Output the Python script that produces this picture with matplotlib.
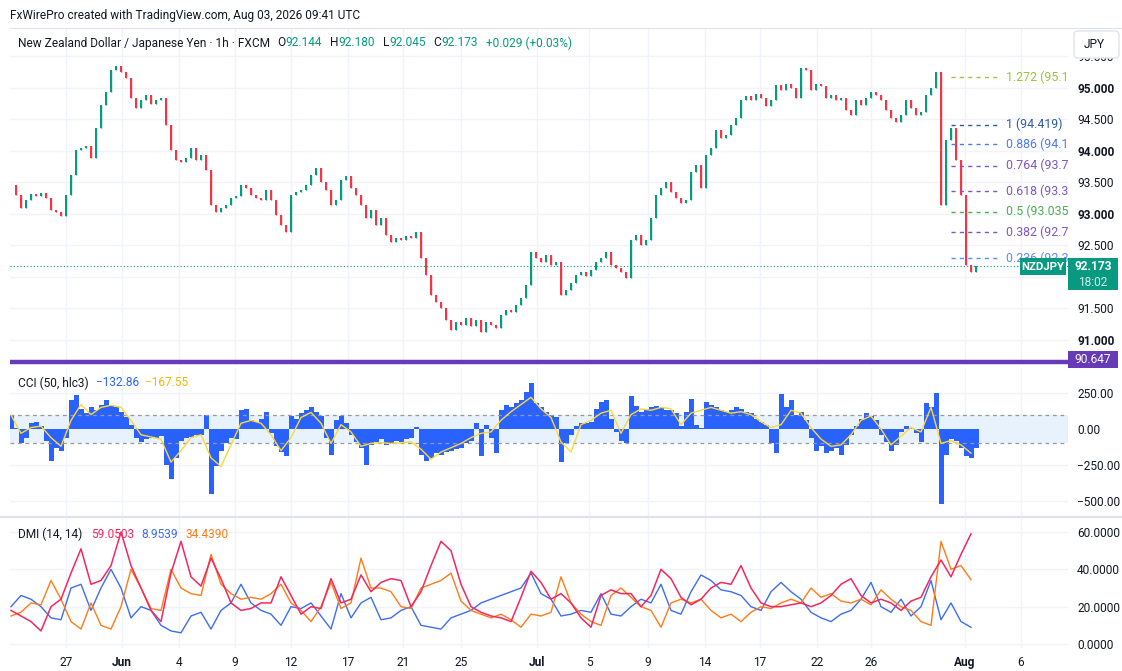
import numpy as np
import matplotlib
matplotlib.use("Agg")
import matplotlib.pyplot as plt
from matplotlib.patches import Rectangle, FancyBboxPatch

plt.rcParams['font.family'] = ['Roboto', 'DejaVu Sans']

# hourly closes, sampled roughly every 4 hours
closes = [
    93.46, 93.30, 93.10, 93.22, 93.32, 93.29, 93.33, 93.25, 93.06, 93.03,
    92.97, 93.30, 93.62, 94.02, 94.05, 94.08, 93.89, 94.37, 94.73, 94.94,
    95.29, 95.35, 95.25, 95.16, 94.84, 94.68, 94.81, 94.89, 94.75, 94.81,
    94.84, 94.41, 94.02, 93.86, 93.83, 93.89, 94.05, 93.86, 93.94, 93.70,
    93.14, 93.03, 93.10, 93.14, 93.25, 93.29, 93.46, 93.41, 93.30, 93.25,
    93.22, 93.38, 93.22, 92.98, 92.83, 92.71, 93.30, 93.35, 93.38, 93.46,
    93.62, 93.73, 93.51, 93.38, 93.14, 93.22, 93.54, 93.60, 93.41, 93.30,
    93.14, 92.94, 93.06, 92.83, 92.94, 92.67, 92.56, 92.62, 92.59, 92.65,
    92.62, 92.71, 92.30, 92.03, 91.71, 91.60, 91.51, 91.32, 91.16, 91.29,
    91.24, 91.35, 91.22, 91.32, 91.13, 91.29, 91.24, 91.19, 91.40, 91.48,
    91.44, 91.56, 91.67, 91.87, 92.40, 92.30, 92.24, 92.35, 92.19, 92.24,
    91.71, 91.79, 91.90, 92.03, 92.08, 92.02, 92.11, 92.24, 92.30, 92.40,
    92.19, 92.14, 92.08, 91.98, 92.59, 92.67, 92.51, 92.59, 92.94, 93.30,
    93.41, 93.51, 93.35, 93.25, 93.17, 93.22, 93.67, 93.78, 93.41, 93.94,
    94.05, 94.33, 94.21, 94.25, 94.41, 94.52, 94.81, 94.87, 94.81, 94.90,
    94.84, 94.71, 94.81, 95.05, 94.97, 95.06, 95.00, 94.84, 95.32, 95.29,
    94.97, 95.06, 95.03, 94.84, 94.89, 94.81, 94.84, 94.65, 94.57, 94.81,
    94.73, 94.84, 94.94, 94.89, 94.81, 94.65, 94.52, 94.46, 94.57, 94.81,
    94.68, 94.57, 94.62, 94.89, 95.00, 95.25, 93.14, 94.17, 94.37, 93.86,
    93.30, 92.19, 92.08, 92.173]

cci = [
    100, 10, -100, -60, 40, 50, 20, -80, -220, -130,
    -150, -60, 200, 236, 140, 110, 150, 130, 170, 200,
    165, 150, 120, 80, 30, -60, -90, -70, -60, -65,
    -50, -250, -350, -200, -80, -60, -55, -40, -45, 100,
    -450, -260, -150, -100, -60, -70, 130, 140, 60, 50,
    70, 120, -30, -120, -160, -190, 90, 70, 110, 130,
    150, 120, 90, -60, -180, 60, 90, 40, -40, -90,
    -130, -250, -110, -90, -70, -110, -100, -80, -90, -70,
    -60, 16, -180, -220, -200, -170, -180, -160, -150, -140,
    -130, -100, -80, 40, -190, 30, -60, -170, 130, 170,
    150, 180, 200, 260, 320, 180, 150, 120, 100, 80,
    -230, -100, -40, 20, 40, 45, 50, 140, 190, 200,
    70, -20, -80, -100, 230, 160, 120, 140, 150, 160,
    145, 130, 135, 110, 20, 120, 210, 30, 10, 190,
    170, 150, 130, 120, 130, 150, 140, 120, 110, 70,
    50, 30, -100, -170, 240, 150, 200, 100, 120, 60,
    -60, -150, -120, -170, -150, -130, -180, -110, -40, 20,
    70, 110, 90, 60, -40, -90, -150, -110, -20, 20,
    10, -30, -90, 180, 150, 250, -520, -180, -70, -80,
    -130, -190, -200, -132.86]

# the slower series below are sampled every second bar
cci_ma = [
    97, -30, 10, 20, -60, -120, 60, 170, 100, 150,
    165, 150, 60, -40, -55, -70, -230, -150, -60, -40,
    -200, -260, -110, 40, 60, 40, -40, -150, -60, 80,
    115, 40, -100, 30, -20, -120, -100, -95, -100, -95,
    -90, -140, -210, -160, -130, -100, -60, -30, -20, 60,
    120, 170, 220, 140, 80, -90, -160, 30, 60, 110,
    130, -30, 100, 140, 130, 150, 140, 30, 110, 130,
    150, 130, 110, 120, 100, 50, 10, 30, 130, 110,
    10, -70, -120, -110, -40, 60, 90, 0, -110, -50,
    10, -20, 150, -100, -80, -110, -167.55]

adx = [
    18, 15, 12, 7, 20, 24, 38, 51, 32, 34,
    42, 60, 42, 30, 18, 12, 38, 55, 36, 31,
    46, 35, 22, 18, 19, 22, 22, 36, 26, 16,
    20, 19, 35, 22, 24, 37, 28, 33, 35, 34,
    20, 28, 42, 55, 50, 32, 20, 17, 15, 14,
    12, 25, 39, 33, 24, 27, 22, 14, 9, 26,
    29, 27, 27, 20, 26, 40, 35, 25, 21, 24,
    30, 33, 32, 42, 30, 22, 20, 20, 21, 22,
    20, 22, 26, 32, 35, 26, 22, 24, 22, 18,
    23, 25, 36, 45, 36, 48, 59.0503]

plus_di = [
    20, 26, 24, 20, 14, 13, 30, 32, 18, 30,
    40, 30, 14, 20, 18, 10, 7, 6, 15, 17,
    8, 18, 22, 32, 22, 18, 16, 10, 20, 19,
    22, 15, 8, 27, 14, 22, 25, 13, 14, 18,
    20, 10, 9, 8, 14, 16, 18, 22, 24, 26,
    28, 30, 38, 27, 24, 15, 16, 18, 17, 27,
    16, 15, 20, 24, 22, 32, 18, 16, 28, 37,
    34, 29, 28, 26, 20, 18, 28, 33, 28, 24,
    17, 14, 12, 16, 18, 24, 33, 20, 17, 24,
    15, 20, 34, 13, 22, 12, 8.9539]

minus_di = [
    15, 17, 22, 21, 34, 24, 12, 8, 22, 10,
    8, 20, 40, 30, 19, 18, 40, 30, 27, 26,
    48, 32, 27, 24, 25, 24, 27, 32, 22, 18,
    12, 20, 33, 19, 22, 46, 30, 30, 28, 20,
    19, 30, 32, 34, 38, 23, 18, 16, 14, 16,
    13, 9, 16, 15, 17, 36, 22, 16, 12, 10,
    26, 30, 25, 20, 18, 9, 22, 24, 22, 24,
    18, 14, 16, 12, 17, 20, 19, 22, 24, 22,
    30, 25, 27, 23, 22, 24, 21, 29, 24, 20,
    18, 12, 10, 55, 40, 42, 34.4390]

date_labels = ["27", "Jun", "4", "9", "12", "17", "21", "25", "Jul",
               "5", "9", "14", "17", "22", "26", "Aug", "6"]
date_pos = [11.0, 22.2, 33.6, 44.8, 56.0, 67.4, 78.4, 90.0, 105.2,
            115.6, 127.4, 138.8, 149.8, 161.2, 172.0, 190.8, 202.0]
month_names = ["Jun", "Jul", "Aug"]

price_grid = [91.0, 91.5, 92.0, 92.5, 93.0, 93.5, 94.0, 94.5, 95.0, 95.5]
hidden_price_ticks = [92.0]  # sits under the last-price tag
cci_ticks = [250, 0, -250, -500]
dmi_ticks = [0, 20, 40, 60]

fib_top = 94.419
fib_half = 93.035
fib_ratios = [1.272, 1, 0.886, 0.764, 0.618, 0.5, 0.382, 0.236]
fib_colors = ["#9bc53d", "#2e5aa8", "#4d7cf2", "#7e57c2", "#7e57c2",
              "#4caf50", "#7e57c2", "#5b8cf5"]
support_level = 90.647

W, H = 1122, 671
UP, DOWN = "#089981", "#f23645"
TXT = "#131722"
GRID = "#f0f3fa"
FS = 8.6

fig = plt.figure(figsize=(W / 100, H / 100), dpi=100)
fig.patch.set_facecolor("white")


def panel(top, bottom):
    return fig.add_axes([10 / W, 1 - bottom / H, 1058 / W, (bottom - top) / H])


ax1 = panel(28, 365)
ax2 = panel(368, 516)
ax3 = panel(518, 648)

for ax in (ax1, ax2, ax3):
    ax.set_xlim(-0.2, 211.4)
    for s in ax.spines.values():
        s.set_visible(False)
    ax.set_xticks(date_pos)
    ax.grid(True, color=GRID, lw=1)
    ax.set_axisbelow(True)
    ax.yaxis.tick_right()
    ax.tick_params(length=0, labelsize=FS, labelcolor=TXT)
    ax.tick_params(axis="y", pad=6.5)
ax1.tick_params(labelbottom=False)
ax2.tick_params(labelbottom=False)

# price candles
c = np.array(closes)
o = np.r_[c[0], c[:-1]]
bars = np.arange(len(c))
col = np.where(c >= o, UP, DOWN)
ax1.bar(bars, c - o, bottom=o, width=0.5, color=col, lw=0)
ax1.vlines(bars, np.minimum(o, c), np.maximum(o, c), colors=col, lw=1.0)
ax1.set_ylim(90.603, 95.952)
ax1.set_yticks(price_grid)
ax1.set_yticklabels(["" if v in hidden_price_ticks else f"{v:.3f}"
                     for v in price_grid])
for t, v in zip(ax1.get_yticklabels(), price_grid):
    if v == int(v):
        t.set_fontweight("bold")
ax1.axhline(c[-1], color=UP, ls=(0, (1, 2)), lw=0.8)
ax1.axhline(support_level, color="#673ab7", lw=3.2)

fib_base = 2 * fib_half - fib_top
fib_range = fib_top - fib_base
for r, fc in zip(fib_ratios, fib_colors):
    lvl = fib_base + r * fib_range
    ax1.hlines(lvl, 188, 197.2, colors=fc, linestyles=(0, (3, 3)), lw=1)
    # the label runs off the pane edge, as on the chart
    ax1.text(199, lvl, f"{r:g} ({lvl:.3f})"[:11], color=fc, va="center",
             fontsize=FS + 0.3, clip_on=True)

# CCI
sub = np.arange(len(cci_ma)) * 2
ax2.axhspan(-100, 100, color="#e8f2fd", lw=0)
for lv in (100, -100):
    ax2.axhline(lv, color="#9598a1", ls=(0, (3, 3)), lw=0.9)
ax2.bar(np.arange(len(cci)), cci, width=1.0, color="#2962ff", lw=0)
ax2.plot(sub, cci_ma, color="#fdd835", lw=1.0)
ax2.set_ylim(-604, 423.6)
ax2.set_yticks(cci_ticks)
ax2.set_yticklabels([f"{v:.2f}".replace("-", "\u2212") for v in cci_ticks])

# DMI
dsub = np.arange(len(adx)) * 2
ax3.plot(dsub, plus_di, color="#3d6df2", lw=1.0)
ax3.plot(dsub, minus_di, color="#ff7b17", lw=1.0)
ax3.plot(dsub, adx, color="#f4275e", lw=1.1)
ax3.set_ylim(-2.14, 67.5)
ax3.set_yticks(dmi_ticks)
ax3.set_yticklabels([f"{v:.4f}" for v in dmi_ticks])
ax3.set_xticklabels(date_labels)
ax3.tick_params(axis="x", pad=6)
for t in ax3.get_xticklabels():
    if t.get_text() in month_names:
        t.set_fontweight("bold")


def chain(ax, x, y, parts):
    prev = None
    for text, color, gap in parts:
        if prev is None:
            prev = ax.annotate(text, xy=(x, y), xycoords="axes pixels",
                               va="center", ha="left", color=color, fontsize=FS)
        else:
            prev = ax.annotate(text, xy=(1, 0.5), xycoords=prev,
                               xytext=(gap, 0), textcoords="offset pixels",
                               va="center", ha="left", color=color, fontsize=FS)


chain(ax1, 8, 322, [
    ("New Zealand Dollar / Japanese Yen \u00b7 1h \u00b7 FXCM", TXT, 0),
    ("O", TXT, 7), ("92.144", UP, 0), ("H", TXT, 8), ("92.180", UP, 0),
    ("L", TXT, 8), ("92.045", UP, 0), ("C", TXT, 8), ("92.173", UP, 0),
    ("+0.029 (+0.03%)", UP, 8)])
chain(ax2, 8, 133, [
    ("CCI (50, hlc3)", TXT, 0),
    (f"{cci[-1]:.2f}".replace("-", "\u2212"), "#2962ff", 7),
    (f"{cci_ma[-1]:.2f}".replace("-", "\u2212"), "#f5b800", 6)])
chain(ax3, 8, 114, [
    ("DMI (14, 14)", TXT, 0),
    (f"{adx[-1]:.4f}", "#f4275e", 9),
    (f"{plus_di[-1]:.4f}", "#3d6df2", 7),
    (f"{minus_di[-1]:.4f}", "#ff7b17", 7)])

fig.text(10 / W, 1 - 15 / H,
         "FxWirePro created with TradingView.com, Aug 03, 2026 09:41 UTC",
         fontsize=FS, color=TXT, va="center")

# overlay in pixel coords (top-left origin) for price-scale labels
ov = fig.add_axes([0, 0, 1, 1], zorder=10)
ov.set_xlim(0, W)
ov.set_ylim(H, 0)
ov.axis("off")


def py(v):
    return H - ax1.transData.transform((0, v))[1]


ov.plot([10, W], [28, 28], color="#e0e3eb", lw=0.8)
ov.plot([0, W], [517, 517], color="#e0e3eb", lw=1.6)

ov.add_patch(FancyBboxPatch((1074, 31), 45, 27,
                            boxstyle="round,pad=0,rounding_size=4",
                            fc="white", ec="#e0e3eb", lw=1))
ov.text(1084, 44.5, "JPY", fontsize=FS, color=TXT, va="center")

yl = py(closes[-1])
ov.add_patch(Rectangle((1020, yl - 8), 46, 17, fc=UP, lw=0))
ov.text(1043, yl + 0.5, "NZDJPY", color="white", fontsize=FS - 0.4,
        fontweight="bold", ha="center", va="center")
ov.add_patch(Rectangle((1068, yl - 8), 50, 32, fc=UP, lw=0))
ov.text(1093, yl + 0.5, f"{closes[-1]:.3f}", color="white", fontsize=FS,
        fontweight="bold", ha="center", va="center")
ov.text(1093, yl + 16, "18:02", color="#d2efe9", fontsize=FS,
        ha="center", va="center")

ys = py(support_level)
ov.add_patch(Rectangle((1068, ys - 11), 50, 17, fc="#673ab7", lw=0))
ov.text(1093, ys - 2.5, f"{support_level:.3f}", color="white", fontsize=FS,
        ha="center", va="center")

fig.savefig("out.png", dpi=100, facecolor="white")
